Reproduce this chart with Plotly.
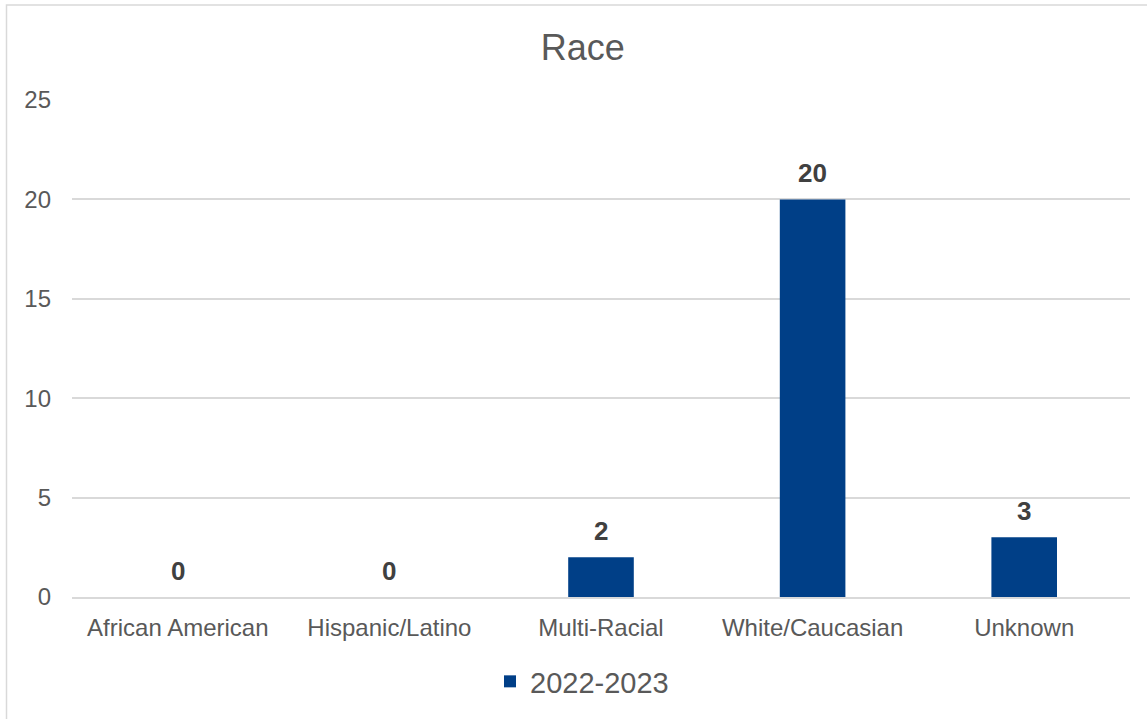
import plotly.graph_objects as go

categories = ["African American", "Hispanic/Latino", "Multi-Racial", "White/Caucasian", "Unknown"]
counts = [0, 0, 2, 20, 3]
series_name = "2022-2023"
y_ticks = [0, 5, 10, 15, 20, 25]

FONT = "Arial, Liberation Sans, sans-serif"
BAR = "#003f87"
GRID = "#d9d9d9"
TEXT = "#595959"

fig = go.Figure()
fig.add_trace(go.Bar(
    x=categories, y=counts, name=series_name,
    marker=dict(color=BAR, line=dict(width=0)),
    width=0.31,
))

# value labels above each bar
for c, v in zip(categories, counts):
    fig.add_annotation(x=c, y=v, text=str(v), showarrow=False,
                       yanchor="middle", yshift=26,
                       font=dict(family=FONT, size=26, color="#404040", weight="bold"))

fig.update_layout(
    width=1147, height=719,
    margin=dict(l=72, r=17, t=100, b=119),
    paper_bgcolor="white", plot_bgcolor="white",
    font=dict(family=FONT, color=TEXT),
    title=dict(text="Race", x=0.508, xanchor="center", y=1 - 47 / 719, yanchor="middle",
               font=dict(family=FONT, size=36, color=TEXT)),
    bargap=0.69,
    showlegend=True,
    legend=dict(orientation="h", x=(490 - 72) / 1058, xanchor="left",
                y=(600 - 685) / 500, yanchor="middle",
                font=dict(family=FONT, size=29, color=TEXT),
                itemwidth=30, bgcolor="rgba(0,0,0,0)"),
    shapes=[dict(type="rect", xref="paper", yref="paper",
                 x0=(6.5 - 72) / 1058, x1=1.2, y0=(600 - 4.5) / 500, y1=-0.4,
                 line=dict(color=GRID, width=1.5), layer="below")],
)
fig.update_xaxes(showgrid=False, showline=True, linecolor=GRID, linewidth=1.5,
                 ticks="", tickfont=dict(family=FONT, size=24, color=TEXT),
                 ticklabelstandoff=8)
fig.update_yaxes(range=[0, 25], tickvals=y_ticks, showgrid=True, gridcolor=GRID, gridwidth=1.5,
                 zeroline=False, showline=False, ticks="",
                 tickfont=dict(family=FONT, size=24, color=TEXT),
                 ticklabelstandoff=20)

fig.write_html("out.html")
